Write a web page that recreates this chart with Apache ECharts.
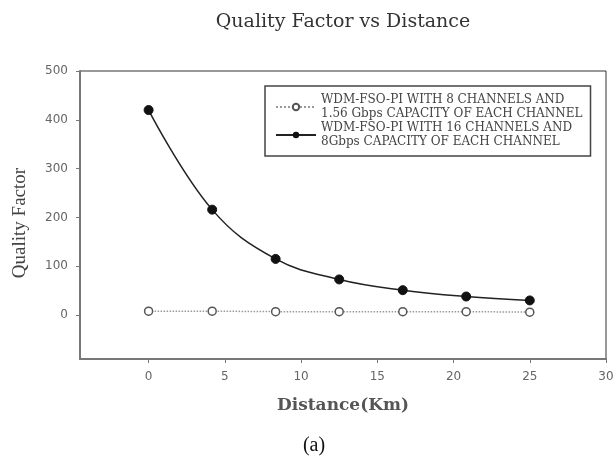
<!DOCTYPE html>
<html>
<head>
<meta charset="utf-8">
<script src="https://cdn.jsdelivr.net/npm/echarts@6/dist/echarts.min.js"></script>
<style>
  html, body { margin: 0; padding: 0; background: #fff; }
  #chart { width: 615px; height: 459px; }
</style>
</head>
<body>
<div id="chart"></div>
<script>
// distance in km, shared by both series
const distance = [0, 4.17, 8.33, 12.5, 16.67, 20.83, 25];
const q8ch = [8, 8, 7, 7, 7, 7, 6];
const q16ch = [420, 216, 115, 73, 51, 38, 30];
const xTicks = [0, 5, 10, 15, 20, 25, 30];
const yTicks = [0, 100, 200, 300, 400, 500];
const names = [
    'WDM-FSO-PI WITH 8 CHANNELS AND\n1.56 Gbps CAPACITY OF EACH CHANNEL',
    'WDM-FSO-PI WITH 16 CHANNELS AND\n8Gbps CAPACITY OF EACH CHANNEL'
];

const serif = '"DejaVu Serif", serif';
const sans = '"DejaVu Sans", sans-serif';
const pairs = (xs, ys) => xs.map((x, i) => [x, ys[i]]);

option = {
    backgroundColor: '#fff',
    animation: false,
    title: [{
        text: 'Quality Factor vs Distance',
        left: 338,
        top: 8,
        textAlign: 'center',
        textStyle: { fontFamily: serif, fontSize: 19, fontWeight: 'normal', color: '#333' }
    }, {
        text: '(a)',
        left: 309,
        top: 431,
        textAlign: 'center',
        textStyle: { fontFamily: '"Liberation Serif", serif', fontSize: 20, fontWeight: 'normal', color: '#111' }
    }],
    grid: {
        left: 80, right: 9, top: 71, bottom: 100,
        outerBoundsMode: 'none',
        containLabel: false,
        show: true, borderColor: '#333', borderWidth: 1
    },
    legend: {
        orient: 'vertical',
        left: 265,
        top: 86,
        padding: [7, 8, 7, 10],
        itemGap: 0,
        itemWidth: 40,
        itemHeight: 8,
        backgroundColor: '#fff',
        borderColor: '#444',
        borderWidth: 1.5,
        textStyle: { fontFamily: serif, fontSize: 12, color: '#444', lineHeight: 14 }
    },
    xAxis: {
        type: 'value',
        min: -4.5,
        max: 30,
        name: 'Distance(Km)',
        nameLocation: 'middle',
        nameGap: 38,
        nameTextStyle: { fontFamily: serif, fontSize: 17, fontWeight: 'bold', color: '#555' },
        axisLine: { onZero: false, lineStyle: { color: '#777', width: 2 } },
        axisTick: { length: 4, customValues: xTicks, lineStyle: { color: '#777' } },
        axisLabel: { customValues: xTicks, margin: 12, fontFamily: sans, fontSize: 12, color: '#666' },
        splitLine: { show: false }
    },
    yAxis: {
        type: 'value',
        min: -90,
        max: 500,
        name: 'Quality Factor',
        nameLocation: 'middle',
        nameGap: 50,
        nameTextStyle: { fontFamily: '"Liberation Serif", serif', fontSize: 19, color: '#444', padding: [0, 16, 0, 0] },
        axisLine: { onZero: false, lineStyle: { color: '#777', width: 2 } },
        axisTick: { length: 4, customValues: yTicks, lineStyle: { color: '#777' } },
        axisLabel: { customValues: yTicks, margin: 12, fontFamily: sans, fontSize: 12, color: '#666' },
        splitLine: { show: false }
    },
    series: [{
        name: names[0],
        type: 'line',
        data: pairs(distance, q8ch),
        symbol: 'circle',
        symbolSize: 8,
        lineStyle: { color: '#999', width: 1.5, type: 'dotted' },
        itemStyle: { color: '#fff', borderColor: '#555', borderWidth: 1.5 }
    }, {
        name: names[1],
        type: 'line',
        data: pairs(distance, q16ch),
        smooth: 0.4,
        symbol: 'circle',
        symbolSize: 9,
        lineStyle: { color: '#222', width: 1.5 },
        itemStyle: { color: '#111', borderColor: '#111' }
    }]
};

dom = document.getElementById('chart');
chart = echarts.init(dom);
chart.setOption(option);
</script>
</body>
</html>
